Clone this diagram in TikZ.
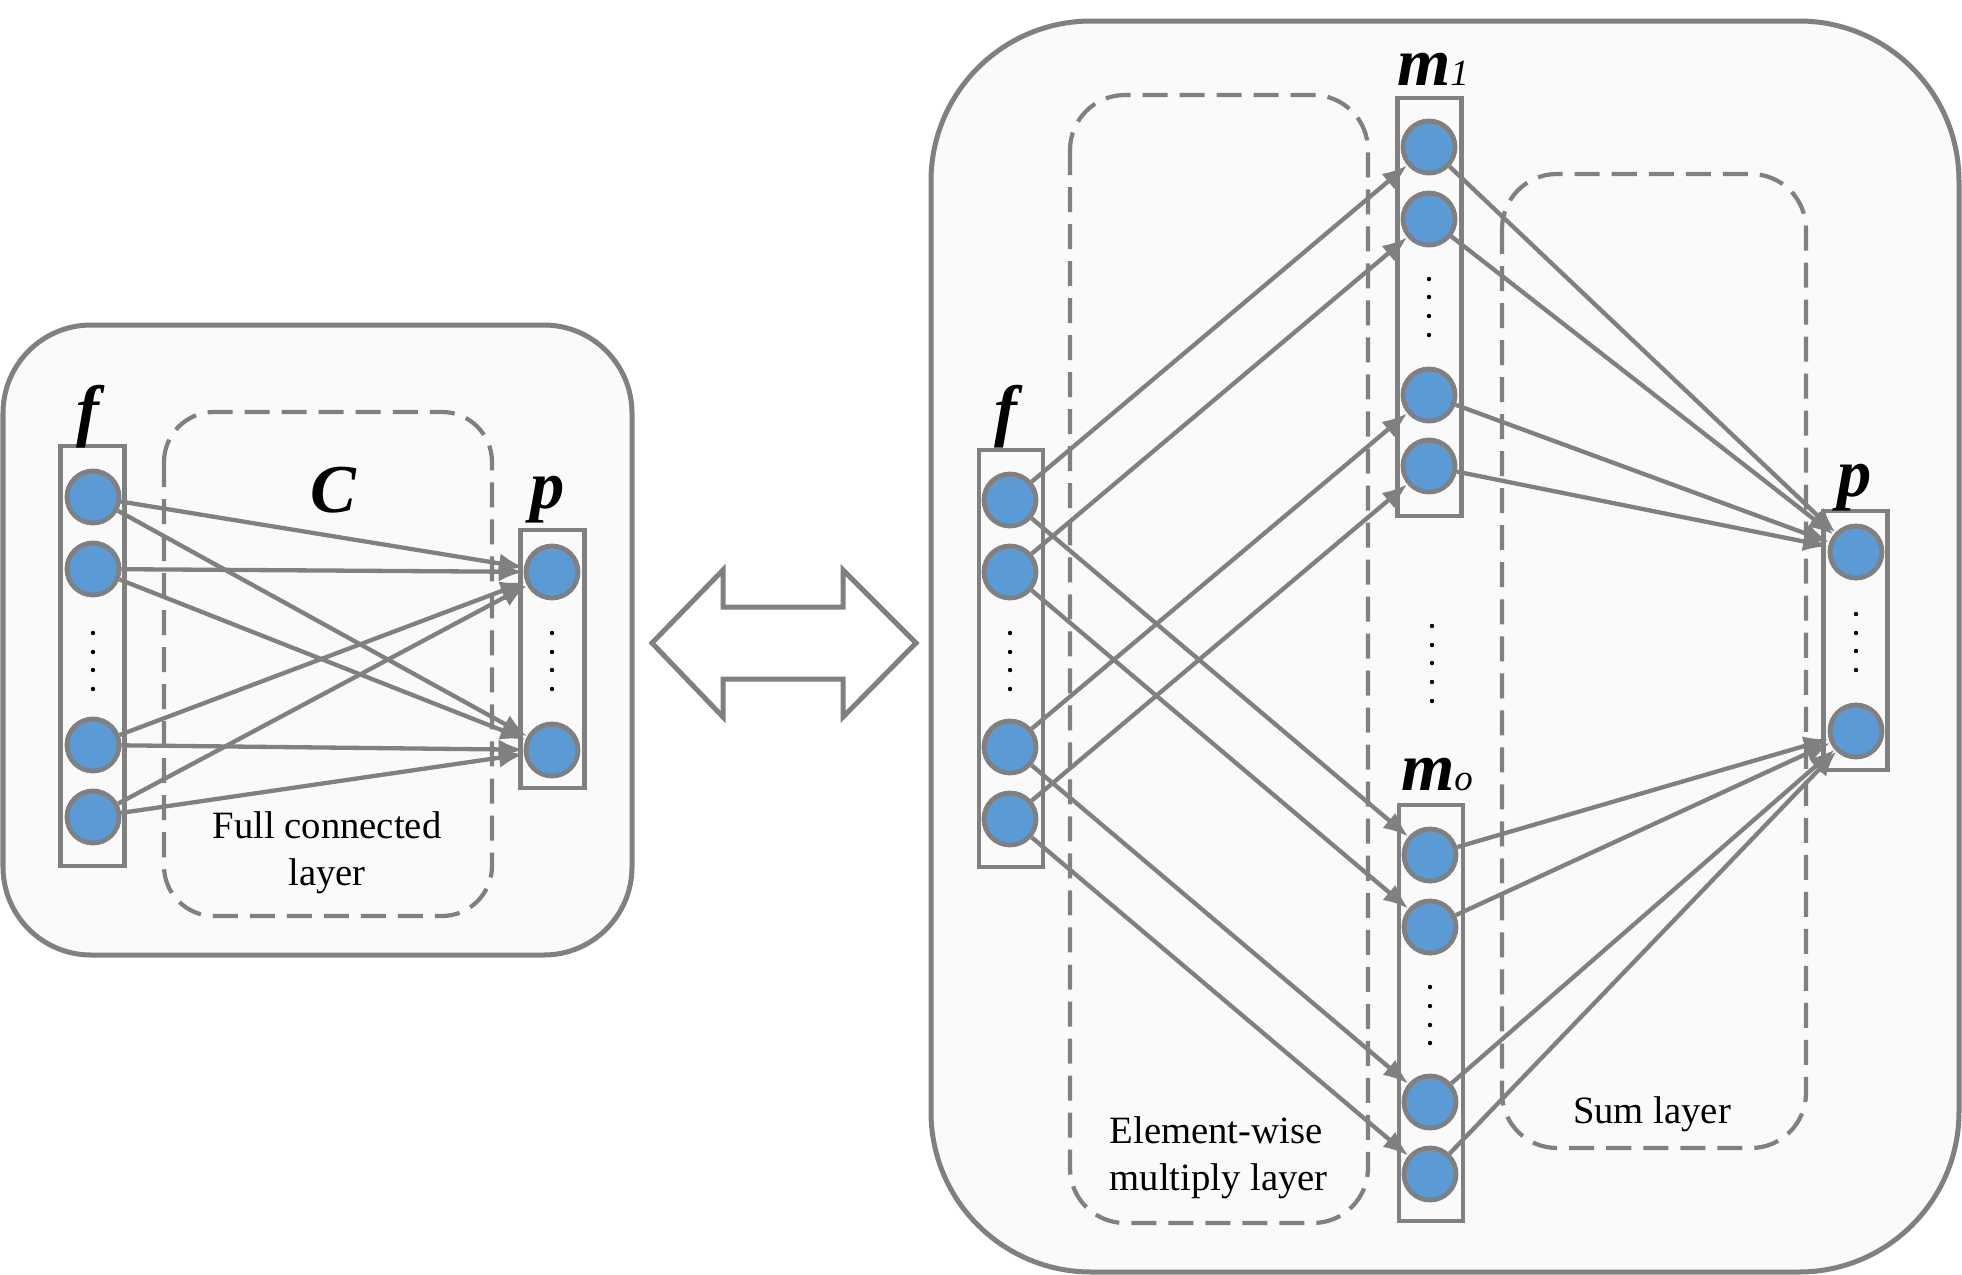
\documentclass[tikz,border=0pt]{standalone}
\usepackage{fontspec}
\setmainfont{Liberation Serif}
\usepackage{tikz}
\usetikzlibrary{shapes}
\usetikzlibrary{arrows.meta}
\definecolor{linegray}{RGB}{128,128,128}
\definecolor{unitblue}{RGB}{91,155,213}
\definecolor{panelbg}{RGB}{250,250,250}
\tikzset{
    panel/.style = {draw=linegray,line width=0.05cm,fill=panelbg},
    dashbox/.style = {draw=linegray,line width=0.042cm,dash pattern=on 0.25cm off 0.12cm,rounded corners=0.55cm},
    vecbox/.style = {rectangle,draw=linegray,line width=0.045cm,minimum width=0.64cm,inner sep=0},
    unit/.style = {circle,draw=linegray,line width=0.048cm,fill=unitblue,minimum size=0.52cm,inner sep=0},
    edgeg/.style = {-{Latex[length=0.25cm,width=0.2cm]},line width=0.043cm,linegray},
    varlabel/.style = {inner sep=0,font=\fontsize{19.5}{19.5}\selectfont\bfseries\itshape},
    layertext/.style = {inner sep=0,font=\fontsize{11}{13.4}\selectfont},
}

\begin{document}
\begin{tikzpicture}[x=0.01cm,y=-0.01cm]
\useasboundingbox (0,0) rectangle (1962,1275);
% left: full connected layer
\draw[panel,rounded corners=0.88cm] (3,325) rectangle (632,955);
\draw[dashbox,rounded corners=0.5cm] (164,412) rectangle (492,916);
\node[vecbox,minimum height=4.2cm] at (92.5,656) (fboxa) {};
\node[vecbox,minimum height=2.58cm] at (552.5,659) (pboxa) {};
\node[unit] at (93,497) (fa1) {};
\node[unit] at (93,569) (fa2) {};
\node[unit] at (93,745) (fa3) {};
\node[unit] at (93,817) (fa4) {};
\node[unit] at (552,572) (pa1) {};
\node[unit] at (552,750) (pa2) {};
\foreach \y in {633,652,670,689} {
  \fill (93,\y) circle[radius=0.022cm];
  \fill (552,\y) circle[radius=0.022cm];
}
\node[varlabel] at (88,417) (fla) {f};
\node[varlabel] at (333,490) (cl) {C};
\node[varlabel] at (548,500) (pla) {p};
\node[layertext,align=center] at (327,853) (fctext) {Full connected\\layer};
%
\draw[edgeg] (fa1) edge node {} (pa1);
\draw[edgeg] (fa1) edge node {} (pa2);
\draw[edgeg] (fa2) edge node {} (pa1);
\draw[edgeg] (fa2) edge node {} (pa2);
\draw[edgeg] (fa3) edge node {} (pa1);
\draw[edgeg] (fa3) edge node {} (pa2);
\draw[edgeg] (fa4) edge node {} (pa1);
\draw[edgeg] (fa4) edge node {} (pa2);

% double arrow
\draw[draw=linegray,line width=0.05cm,fill=white,line join=miter]
  (652,643) -- (723,570) -- (723,607) -- (843,607) -- (843,570) -- (916,643)
  -- (843,717) -- (843,679) -- (723,679) -- (723,717) -- cycle;

% right: element-wise multiply and sum layers
\draw[panel,rounded corners=1.6cm] (931,21) rectangle (1959,1272);
\draw[dashbox] (1070,95) rectangle (1368,1223);
\draw[dashbox] (1502,174) rectangle (1806,1148);
\node[vecbox,minimum height=4.17cm] at (1011,658.5) (fboxb) {};
\node[vecbox,minimum height=4.18cm] at (1429.5,307) (mboxa) {};
\node[vecbox,minimum height=4.16cm] at (1431,1013) (mboxo) {};
\node[vecbox,minimum height=2.59cm] at (1855.5,640.5) (pboxb) {};
\node[unit] at (1010,500) (fb1) {};
\node[unit] at (1010,572) (fb2) {};
\node[unit] at (1010,747) (fb3) {};
\node[unit] at (1010,819) (fb4) {};
\node[unit] at (1429,147) (ma1) {};
\node[unit] at (1429,219) (ma2) {};
\node[unit] at (1429,395) (ma3) {};
\node[unit] at (1429,466) (ma4) {};
\node[unit] at (1430,855) (mo1) {};
\node[unit] at (1430,927) (mo2) {};
\node[unit] at (1430,1102) (mo3) {};
\node[unit] at (1430,1174) (mo4) {};
\node[unit] at (1856,552) (pb1) {};
\node[unit] at (1856,731) (pb2) {};
\foreach \y in {633,652,670,689} \fill (1010,\y) circle[radius=0.022cm];
\foreach \y in {279,297,316,335} \fill (1429,\y) circle[radius=0.022cm];
\foreach \y in {987,1006,1025,1043} \fill (1430,\y) circle[radius=0.022cm];
\foreach \y in {614,633,651,670} \fill (1856,\y) circle[radius=0.022cm];
\foreach \y in {626,645,663,682,701} \fill (1432,\y) circle[radius=0.022cm];
\node[varlabel] at (1006,417) (flb) {f};
\node[varlabel,anchor=base] at (1433,85) (mla) {m{\fontsize{10.5}{10.5}\selectfont\mdseries 1}};
\node[varlabel,anchor=base] at (1437,790) (mlo) {m{\fontsize{10.5}{10.5}\selectfont\mdseries o}};
\node[varlabel] at (1855,488) (plb) {p};
\node[layertext,align=left,anchor=west] at (1109,1158) (ewtext) {Element-wise\\multiply layer};
\node[layertext] at (1652,1114) (sumtext) {Sum layer};
%
\draw[edgeg] (fb1) edge node {} (ma1);
\draw[edgeg] (fb2) edge node {} (ma2);
\draw[edgeg] (fb3) edge node {} (ma3);
\draw[edgeg] (fb4) edge node {} (ma4);
\draw[edgeg] (fb1) edge node {} (mo1);
\draw[edgeg] (fb2) edge node {} (mo2);
\draw[edgeg] (fb3) edge node {} (mo3);
\draw[edgeg] (fb4) edge node {} (mo4);
\draw[edgeg] (ma1) edge node {} (pb1);
\draw[edgeg] (ma2) edge node {} (pb1);
\draw[edgeg] (ma3) edge node {} (pb1);
\draw[edgeg] (ma4) edge node {} (pb1);
\draw[edgeg] (mo1) edge node {} (pb2);
\draw[edgeg] (mo2) edge node {} (pb2);
\draw[edgeg] (mo3) edge node {} (pb2);
\draw[edgeg] (mo4) edge node {} (pb2);

\end{tikzpicture}
\end{document}
